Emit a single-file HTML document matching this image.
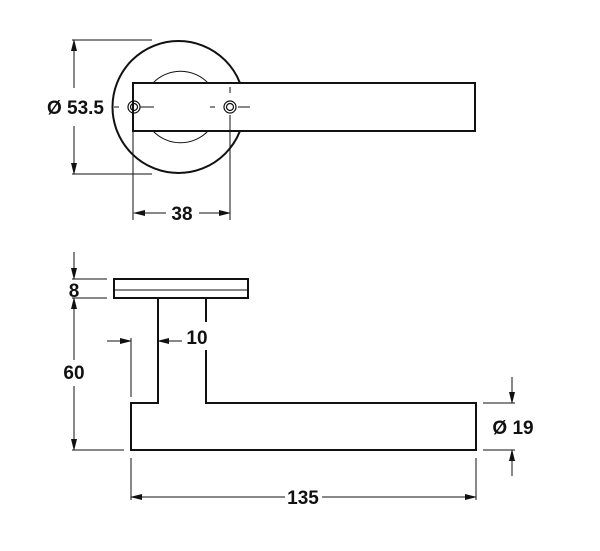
<!DOCTYPE html>
<html><head><style>html,body{margin:0;padding:0;background:#fff}svg{display:block}text{font-family:"Liberation Sans",sans-serif;font-size:19px;font-weight:bold;fill:#111}</style></head><body>
<svg width="600" height="551" viewBox="0 0 600 551" xmlns="http://www.w3.org/2000/svg">
<defs><marker id="a" markerWidth="12" markerHeight="8" refX="11" refY="4" orient="auto" markerUnits="userSpaceOnUse"><path d="M0,1 L12,4 L0,7 Z" fill="#111"/></marker></defs>
<g fill="none" stroke="#111">
<!-- top view -->
<circle cx="178.5" cy="107" r="66" stroke-width="2"/>
<path d="M153,83 A38,38 0 0 1 208,83 M153,131 A38,38 0 0 0 208,131" stroke-width="1"/>
<rect x="133" y="83" width="342" height="48" fill="#fff" stroke-width="2"/>
<circle cx="134" cy="107" r="6" stroke-width="1.2"/><circle cx="134" cy="107" r="3.5" stroke-width="1.2"/>
<circle cx="230" cy="107" r="6" stroke-width="1.2"/><circle cx="230" cy="107" r="3.5" stroke-width="1.2"/>
<path d="M114,107 H119 M140,107 H154 M210,107 H215 M238,107 H250 M230,87 V93 M230,115 V220 M133,131 V220" stroke-width="1"/>
<path d="M72,40 H152 M72,174 H152" stroke-width="1"/>
<line x1="74" y1="88" x2="74" y2="40" stroke-width="1" marker-end="url(#a)"/>
<line x1="74" y1="126" x2="74" y2="174" stroke-width="1" marker-end="url(#a)"/>
<line x1="166" y1="213" x2="134" y2="213" stroke-width="1" marker-end="url(#a)"/>
<line x1="199" y1="213" x2="230" y2="213" stroke-width="1" marker-end="url(#a)"/>
<!-- side view -->
<rect x="114" y="279" width="134" height="19" stroke-width="2"/>
<line x1="114" y1="290" x2="248" y2="290" stroke-width="1"/>
<path d="M158,298 V403 H131 V450 H476 V403 H206 V350 M206,298 V322" stroke-width="2"/>
<path d="M72,279 H107 M72,298 H107 M72,450 H124 M131,338 V397 M483,403 H515 M483,450 H515 M131,458 V500 M476,458 V500" stroke-width="1"/>
<line x1="74" y1="252" x2="74" y2="279" stroke-width="1" marker-end="url(#a)"/>
<line x1="74" y1="360" x2="74" y2="298" stroke-width="1" marker-end="url(#a)"/>
<line x1="74" y1="386" x2="74" y2="450" stroke-width="1" marker-end="url(#a)"/>
<line x1="107" y1="341" x2="131" y2="341" stroke-width="1" marker-end="url(#a)"/>
<line x1="182" y1="341" x2="158" y2="341" stroke-width="1" marker-end="url(#a)"/>
<line x1="512" y1="377" x2="512" y2="403" stroke-width="1" marker-end="url(#a)"/>
<line x1="512" y1="476" x2="512" y2="450" stroke-width="1" marker-end="url(#a)"/>
<line x1="285" y1="497" x2="131" y2="497" stroke-width="1" marker-end="url(#a)"/>
<line x1="322" y1="497" x2="476" y2="497" stroke-width="1" marker-end="url(#a)"/>
</g>
<rect x="66" y="94" width="40" height="24" fill="#fff"/>
<rect x="62" y="360" width="26" height="24" fill="#fff"/>
<text x="104" y="114" text-anchor="end">Ø 53.5</text>
<text x="182" y="220" text-anchor="middle">38</text>
<text x="74" y="297" text-anchor="middle">8</text>
<text x="74" y="379" text-anchor="middle">60</text>
<text x="197" y="344" text-anchor="middle">10</text>
<text x="513" y="434" text-anchor="middle">Ø 19</text>
<text x="303" y="504" text-anchor="middle">135</text>
</svg>
</body></html>
